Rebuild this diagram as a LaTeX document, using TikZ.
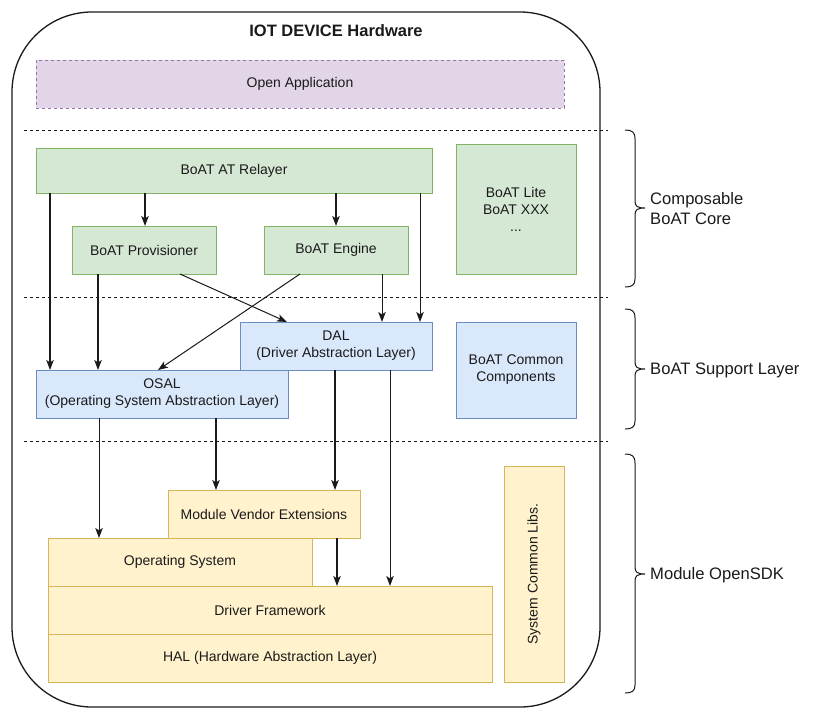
\documentclass[tikz,border=0pt]{standalone}
\usepackage{fontspec}
\setmainfont{Liberation Sans}
\usetikzlibrary{arrows.meta,calc}
\definecolor{gfill}{HTML}{D5E8D4}
\definecolor{gline}{HTML}{82B366}
\definecolor{bfill}{HTML}{DAE8FC}
\definecolor{bline}{HTML}{6C8EBF}
\definecolor{yfill}{HTML}{FFF2CC}
\definecolor{yline}{HTML}{D6B656}
\definecolor{pfill}{HTML}{E1D5E7}
\definecolor{pline}{HTML}{9673A6}
\definecolor{ink}{HTML}{1A1A1A}
\begin{document}
\begin{tikzpicture}[x=1pt,y=-1pt,
  box/.style={draw, line width=1pt, inner sep=0pt, outer sep=0pt, align=center,
    anchor=north west, text=ink, font=\fontsize{14}{17}\selectfont},
  gbox/.style={box, fill=gfill, draw=gline},
  bbox/.style={box, fill=bfill, draw=bline},
  ybox/.style={box, fill=yfill, draw=yline},
  pbox/.style={box, fill=pfill, draw=pline, dashed, dash pattern=on 3pt off 3pt},
  sepline/.style={draw=ink, line width=0.9pt, dash pattern=on 3pt off 3pt},
  arr/.style={draw=ink, line width=1pt, -{Stealth[length=10pt,width=7.5pt,inset=2.5pt]}},
  arrm/.style={arr, line width=1.3pt},
  arrk/.style={arr, line width=1.6pt},
  bracestyle/.style={draw=ink, line width=1pt},
  lbl/.style={anchor=west, align=left, text=ink, inner sep=0pt, font=\fontsize{16.6}{20}\selectfont}
]
\useasboundingbox (0,0) rectangle (829,720);

% outer container
\node[draw=ink, line width=1.3pt, rounded corners=80pt, fill=white, inner sep=0pt, outer sep=0pt,
  anchor=north west, minimum width=588pt, minimum height=695pt] (outer) at (12,12) {};
\node[text=ink, font=\fontsize{16.5}{19}\selectfont\bfseries] (title) at (336,31) {IOT DEVICE Hardware};

% separators
\draw[sepline] (24,130) -- (608,130);
\draw[sepline] (24,297) -- (608,297);
\draw[sepline] (24,441) -- (608,441);

% boxes
\node[pbox, minimum width=528pt, minimum height=48pt] (openapp) at (36,60) {Open Application};
\node[gbox, minimum width=396pt, minimum height=45pt] (relayer) at (36,148) {BoAT AT Relayer};
\node[gbox, minimum width=120pt, minimum height=130pt] (lite) at (456,144) {BoAT Lite\\BoAT XXX\\...};
\node[gbox, minimum width=144pt, minimum height=48pt] (prov) at (72,226) {BoAT Provisioner};
\node[gbox, minimum width=144pt, minimum height=48pt] (engine) at (264,226) {BoAT Engine};
\node[bbox, minimum width=192pt, minimum height=48pt] (dal) at (240,322) {DAL\\(Driver Abstraction Layer)};
\node[bbox, minimum width=252pt, minimum height=48pt] (osal) at (36,370) {OSAL\\(Operating System Abstraction Layer)};
\node[bbox, minimum width=120pt, minimum height=96pt] (common) at (456,322) {BoAT Common\\Components};
\node[ybox, minimum width=192pt, minimum height=48pt] (mve) at (168,490) {Module Vendor Extensions};
\node[ybox, minimum width=264pt, minimum height=48pt] (os) at (48,538) {Operating System};
\node[ybox, minimum width=444pt, minimum height=48pt] (df) at (48,586) {Driver Framework};
\node[ybox, minimum width=444pt, minimum height=48pt] (hal) at (48,634) {HAL (Hardware Abstraction Layer)};
\node[ybox, anchor=center, rotate=90, minimum width=216pt, minimum height=60pt] (scl) at (534,574) {System Common Libs.};

% column coordinates
\coordinate (c50) at (50,0);
\coordinate (c98) at (98,0);
\coordinate (c99) at (99,0);
\coordinate (c145) at (145,0);
\coordinate (c158) at (158,0);
\coordinate (c180) at (180,0);
\coordinate (c216) at (216,0);
\coordinate (c287) at (287,0);
\coordinate (c300) at (300,0);
\coordinate (c335) at (335,0);
\coordinate (c336) at (336,0);
\coordinate (c337) at (337,0);
\coordinate (c382) at (382,0);
\coordinate (c390) at (390,0);
\coordinate (c420) at (420,0);

% arrows
\draw[arrk] (relayer.south -| c145) -- (prov.north -| c145);
\draw[arrk] (relayer.south -| c336) -- (engine.north -| c336);
\draw[arrm] (relayer.south -| c50) -- (osal.north -| c50);
\draw[arr] (relayer.south -| c420) -- (dal.north -| c420);
\draw[arrm] (prov.south -| c98) -- (osal.north -| c98);
\draw[arr] (prov.south -| c180) -- (dal.north -| c287);
\draw[arr] (engine.south -| c300) -- (osal.north -| c158);
\draw[arr] (engine.south -| c382) -- (dal.north -| c382);
\draw[arr] (osal.south -| c99) -- (os.north -| c99);
\draw[arrm] (osal.south -| c216) -- (mve.north -| c216);
\draw[arrm] (dal.south -| c335) -- (mve.north -| c335);
\draw[arr] (dal.south -| c390) -- (df.north -| c390);
\draw[arrm] (mve.south -| c337) -- (df.north -| c337);

% braces
\draw[bracestyle] (625,130) .. controls (632,130) and (635,132) .. (635,139)
  -- (635,201) .. controls (635,206) and (637,208) .. (645,208)
  .. controls (637,208) and (635,210) .. (635,215)
  -- (635,279) .. controls (635,285) and (632,287) .. (625,287);
\draw[bracestyle] (625,309) .. controls (632,309) and (635,311) .. (635,318)
  -- (635,362) .. controls (635,367) and (637,369) .. (645,369)
  .. controls (637,369) and (635,371) .. (635,376)
  -- (635,421) .. controls (635,427) and (632,429) .. (625,429);
\draw[bracestyle] (625,454) .. controls (632,454) and (635,456) .. (635,463)
  -- (635,567) .. controls (635,572) and (637,574) .. (645,574)
  .. controls (637,574) and (635,576) .. (635,581)
  -- (635,685) .. controls (635,691) and (632,693) .. (625,693);

\node[lbl] (lcore) at (650,209) {Composable\\BoAT Core};
\node[lbl] (lsupport) at (650,370) {BoAT Support Layer};
\node[lbl] (lsdk) at (650,575) {Module OpenSDK};
\end{tikzpicture}
\end{document}
